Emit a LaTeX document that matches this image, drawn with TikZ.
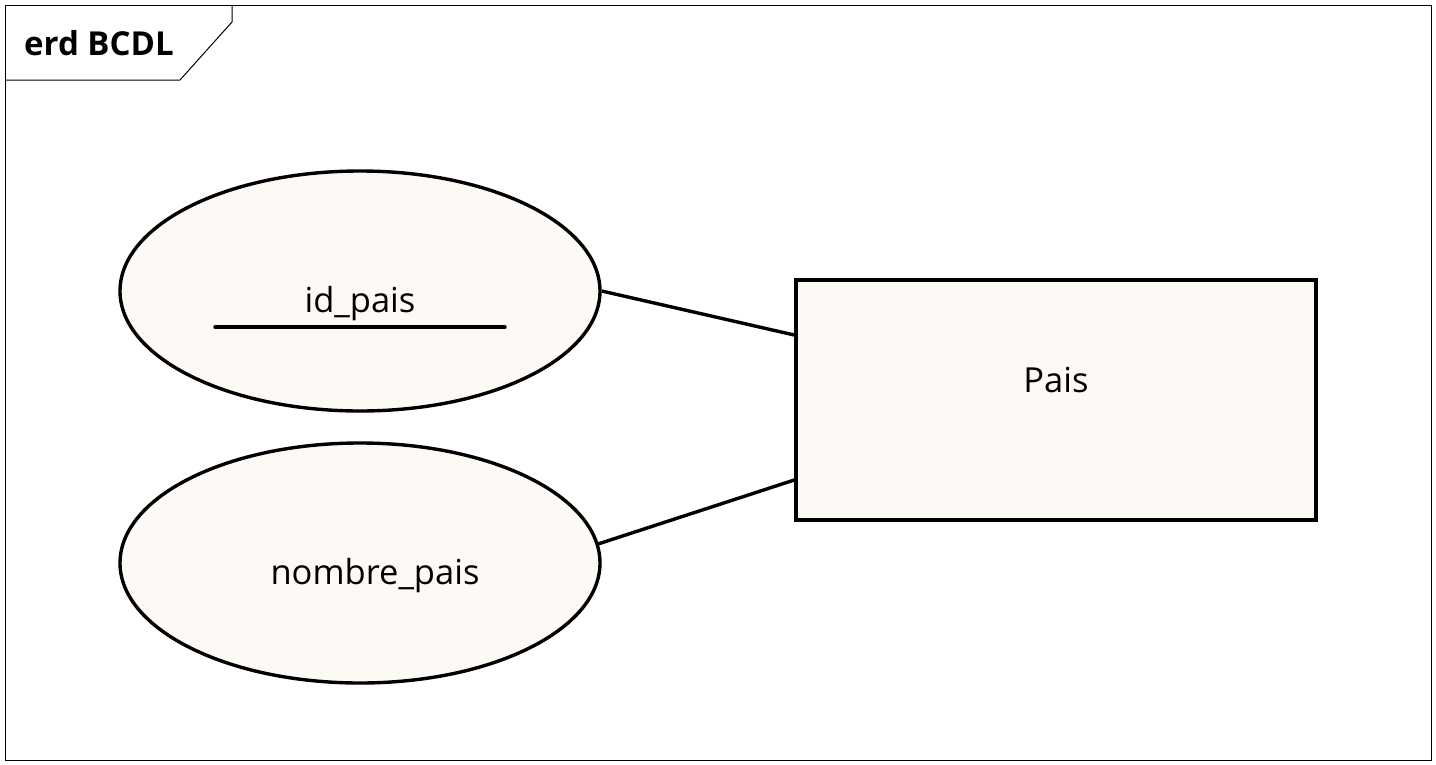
\documentclass[tikz,border=0pt]{standalone}
\usepackage{fontspec}
\setmainfont{Open Sans}
\usetikzlibrary{shapes.geometric}
\definecolor{cream}{RGB}{253,249,245}
\begin{document}
\begin{tikzpicture}[x=1pt,y=-1pt,
  attr/.style={draw,ellipse,line width=3.4pt,fill=cream,minimum width=480pt,minimum height=240pt,inner sep=0pt},
  ent/.style={draw,rectangle,line width=3.4pt,fill=cream,minimum width=520pt,minimum height=240pt,inner sep=0pt},
  lbl/.style={font=\fontsize{34.5}{40}\selectfont,inner sep=0pt},
  conn/.style={line width=3.4pt}]
\useasboundingbox (0,0) rectangle (1436,764);
\fill[white] (0,0) rectangle (1436,764);
\draw[line width=1pt] (5,5) rectangle (1431,760);
\draw[line width=1pt] (5,80) -- (180,80) -- (232,22) -- (232,5);
\node[font=\fontsize{33}{38}\selectfont\bfseries,anchor=west,inner sep=0pt] (title) at (24,43) {erd BCDL};
\node[attr] (e1) at (360,291) {};
\node[attr] (e2) at (360,563) {};
\node[ent] (pais) at (1056,400) {};
\node[lbl] (t1) at (360,304) {id\_pais};
\node[lbl] (t2) at (375,576) {nombre\_pais};
\node[lbl] (tp) at (1056,380) {Pais};
\coordinate (u1) at (215,327);
\coordinate (u2) at (505,327);
\draw[line width=3.4pt,line cap=round] (u1) -- (u2);
\draw[conn] (e1.east) -- (pais.west |- 0,335);
\draw[conn] (e2) ++(238,-19) coordinate (c2) -- (pais.west |- 0,480);
\end{tikzpicture}
\end{document}
